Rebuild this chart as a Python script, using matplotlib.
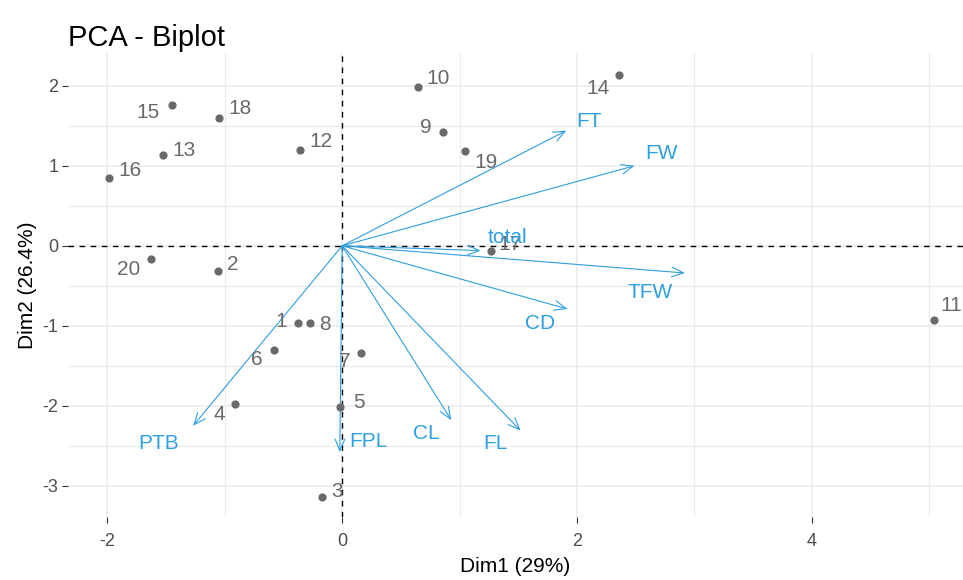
import matplotlib
matplotlib.use("Agg")
import matplotlib.pyplot as plt

plt.rcParams['font.family'] = ['Liberation Sans', 'DejaVu Sans']
plt.rcParams['axes.unicode_minus'] = False

# individuals (scores on Dim1 / Dim2)
ind_names = ['1', '2', '3', '4', '5', '6', '7', '8', '9', '10',
             '11', '12', '13', '14', '15', '16', '17', '18', '19', '20']
ind_x = [-0.38, -1.06, -0.17, -0.91, -0.02, -0.58, 0.16, -0.27, 0.86, 0.65,
         5.04, -0.36, -1.53, 2.36, -1.45, -1.99, 1.27, -1.05, 1.05, -1.63]
ind_y = [-0.96, -0.31, -3.14, -1.98, -2.02, -1.30, -1.34, -0.96, 1.42, 1.98,
         -0.93, 1.20, 1.14, 2.13, 1.76, 0.85, -0.06, 1.60, 1.18, -0.16]

# variables (arrow tips)
var_names = ['FT', 'FW', 'TFW', 'CD', 'FL', 'CL', 'FPL', 'PTB', 'total']
var_x = [1.91, 2.49, 2.92, 1.92, 1.52, 0.93, -0.02, -1.27, 1.18]
var_y = [1.44, 1.00, -0.34, -0.79, -2.31, -2.18, -2.58, -2.25, -0.06]

# label offsets in pixels (dx, dy)
ind_off = [(-16, 1), (15, 6), (15, 5), (-16, -10), (19, 5), (-17, -10), (-16, -9),
           (14, -2), (-17, 5), (20, 9), (18, 15), (21, 8), (21, 4), (-21, -13),
           (-24, -8), (21, 7), (19, 6), (21, 9), (21, -11), (-22, -11)]
var_off = [(23, 9), (27, 12), (-35, -20), (-27, -15), (-25, -13), (-25, -13),
           (29, 11), (-34, -18), (27, 13)]

grey = '#696969'
blue = '#2E9FDF'

fig = plt.figure(figsize=(9.63, 5.80), dpi=100)
ax = fig.add_axes([68 / 963, 1 - 517 / 580, 1 - 68 / 963, 464 / 580])

ax.set_xlim(-2.336, 5.29)
ax.set_ylim(-3.39, 2.41)

ax.set_xticks([-2, 0, 2, 4])
ax.set_xticks([-1, 1, 3, 5], minor=True)
ax.set_yticks([-3, -2, -1, 0, 1, 2])
ax.set_yticks([-2.5, -1.5, -0.5, 0.5, 1.5], minor=True)
ax.grid(which='major', color='#EBEBEB', linewidth=1.1)
ax.grid(which='minor', color='#EBEBEB', linewidth=0.8)
ax.set_axisbelow(True)
for s in ax.spines.values():
    s.set_visible(False)
ax.tick_params(which='major', length=4, color='#333333', labelcolor='#4D4D4D',
               labelsize=13, pad=3)
ax.tick_params(axis='x', which='major', pad=7.5)
ax.tick_params(which='minor', length=0)

ax.axhline(0, color='black', linestyle=(0, (4, 4)), linewidth=1.0, zorder=1)
ax.axvline(0, color='black', linestyle=(0, (4, 4)), linewidth=1.0, zorder=1)

ax.scatter(ind_x, ind_y, s=24, color=grey, zorder=3)
for name, x, y, off in zip(ind_names, ind_x, ind_y, ind_off):
    ax.annotate(name, (x, y), xytext=off, textcoords='offset pixels',
                ha='center', va='center', color=grey, fontsize=15, zorder=4)

for name, x, y, off in zip(var_names, var_x, var_y, var_off):
    ax.annotate('', xy=(x, y), xytext=(0, 0),
                arrowprops=dict(arrowstyle='->,head_length=0.6,head_width=0.25',
                                color=blue, lw=0.8,
                                mutation_scale=14, shrinkA=0, shrinkB=0),
                zorder=2)
    ax.annotate(name, (x, y), xytext=off, textcoords='offset pixels',
                ha='center', va='center', color=blue, fontsize=15, zorder=4)

ax.set_xlabel('Dim1 (29%)', fontsize=15, color='black', labelpad=5)
ax.set_ylabel('Dim2 (26.4%)', fontsize=15, color='black', labelpad=4)
ax.set_title('PCA - Biplot', loc='left', fontsize=21, color='black', pad=5)

fig.savefig('out.png', dpi=100)
